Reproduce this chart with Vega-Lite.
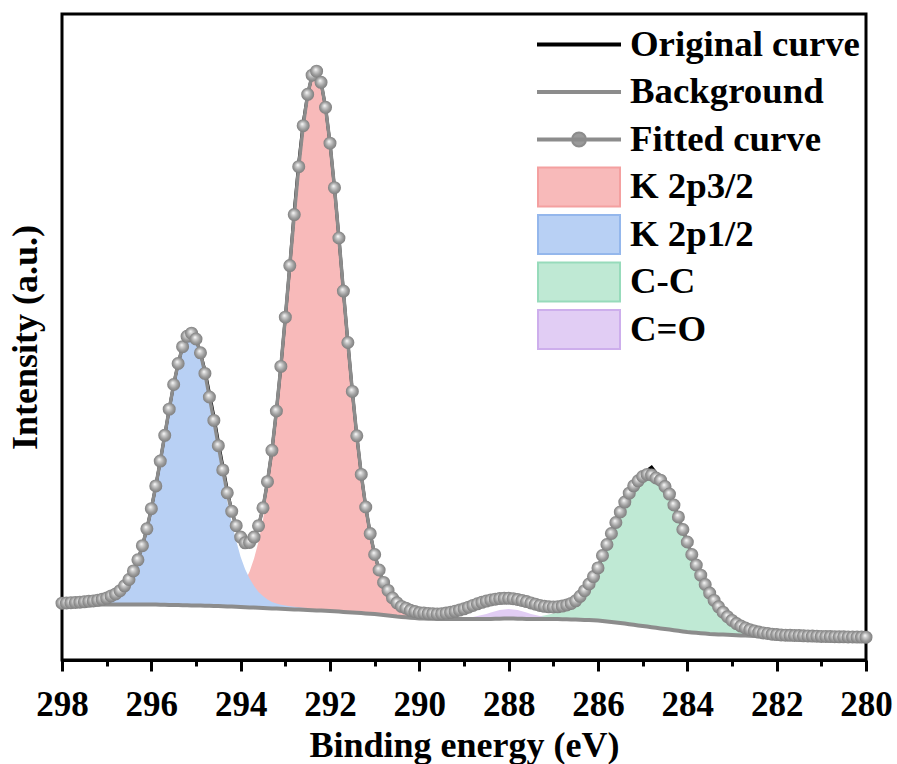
{
"$schema": "https://vega.github.io/schema/vega-lite/v6.json",
"width": 804, "height": 646,
"autosize": {"type": "none"},
"padding": {"left": 62, "top": 14, "right": 31, "bottom": 104},
"background": "white",
"data": {"values": [
{"x":298.0,"bg":54.5,"f":56.8,"o":56.8},
{"x":297.9,"bg":54.6,"f":57.0,"o":57.0},
{"x":297.8,"bg":54.7,"f":57.3,"o":57.3},
{"x":297.7,"bg":54.8,"f":57.5,"o":57.5},
{"x":297.6,"bg":54.9,"f":57.8,"o":57.8},
{"x":297.5,"bg":55.0,"f":58.2,"o":58.2,"b":57.3},
{"x":297.4,"bg":55.1,"f":58.7,"o":58.7,"b":57.8},
{"x":297.3,"bg":55.2,"f":59.1,"o":59.1,"b":58.2},
{"x":297.2,"bg":55.3,"f":59.8,"o":59.8,"b":58.8},
{"x":297.1,"bg":55.4,"f":60.7,"o":60.7,"b":59.7},
{"x":297.0,"bg":55.5,"f":61.9,"o":61.9,"b":60.9},
{"x":296.9,"bg":55.5,"f":64.1,"o":64.1,"b":63.0},
{"x":296.8,"bg":55.5,"f":66.0,"o":66.0,"b":64.9},
{"x":296.7,"bg":55.5,"f":69.3,"o":69.3,"b":68.1},
{"x":296.6,"bg":55.5,"f":74.2,"o":74.2,"b":73.0},
{"x":296.5,"bg":55.5,"f":80.5,"o":80.5,"b":79.2},
{"x":296.4,"bg":55.5,"f":89.1,"o":89.1,"b":87.8},
{"x":296.3,"bg":55.5,"f":100.2,"o":100.2,"b":98.8},
{"x":296.2,"bg":55.5,"f":114.3,"o":114.3,"b":112.8},
{"x":296.1,"bg":55.5,"f":131.2,"o":131.2,"b":129.7},
{"x":296.0,"bg":55.5,"f":151.3,"o":151.3,"b":149.7},
{"x":295.9,"bg":55.4,"f":174.1,"o":174.1,"b":172.4},
{"x":295.8,"bg":55.3,"f":198.9,"o":198.9,"b":197.1},
{"x":295.7,"bg":55.2,"f":224.7,"o":224.7,"b":222.8},
{"x":295.6,"bg":55.1,"f":250.8,"o":250.8,"b":248.8},
{"x":295.5,"bg":55.0,"f":275.5,"o":275.5,"b":273.2},
{"x":295.4,"bg":54.9,"f":296.5,"o":296.5,"b":294.0},
{"x":295.3,"bg":54.8,"f":313.3,"o":313.3,"b":310.6},
{"x":295.2,"bg":54.7,"f":323.7,"o":323.7,"b":320.7},
{"x":295.1,"bg":54.6,"f":326.8,"o":326.8,"b":323.6},
{"x":295.0,"bg":54.5,"f":321.0,"o":321.0,"b":317.5},
{"x":294.9,"bg":54.4,"f":307.2,"o":307.2,"b":303.4},
{"x":294.8,"bg":54.3,"f":286.6,"o":289.6,"b":282.3},
{"x":294.7,"bg":54.2,"f":263.0,"o":267.0,"b":258.2},
{"x":294.6,"bg":54.1,"f":239.6,"o":243.6,"b":234.1},
{"x":294.5,"bg":54.0,"f":214.3,"o":218.3,"b":208.0},
{"x":294.4,"bg":53.8,"f":190.1,"o":194.1,"b":182.8},
{"x":294.3,"bg":53.6,"f":167.2,"o":170.2,"b":158.6},
{"x":294.2,"bg":53.4,"f":148.7,"o":148.7,"b":137.4,"r":64.7},
{"x":294.1,"bg":53.2,"f":134.3,"o":134.3,"b":119.2,"r":68.3},
{"x":294.0,"bg":53.0,"f":122.9,"o":122.9,"b":103.0,"r":72.9},
{"x":293.9,"bg":52.8,"f":117.2,"o":117.2,"b":90.8,"r":79.2},
{"x":293.8,"bg":52.6,"f":117.6,"o":117.6,"b":81.6,"r":88.6},
{"x":293.7,"bg":52.4,"f":122.9,"o":122.9,"b":73.9,"r":101.4},
{"x":293.6,"bg":52.2,"f":134.2,"o":134.2,"b":68.0,"r":118.4},
{"x":293.5,"bg":52.0,"f":152.2,"o":152.2,"b":64.0,"r":140.2},
{"x":293.4,"bg":51.8,"f":178.3,"o":178.3,"b":60.5,"r":169.6},
{"x":293.3,"bg":51.6,"f":209.7,"o":209.7,"b":58.0,"r":203.3},
{"x":293.2,"bg":51.4,"f":249.0,"o":249.0,"b":56.4,"r":244.0},
{"x":293.1,"bg":51.2,"f":293.6,"o":293.6,"b":55.3,"r":289.5},
{"x":293.0,"bg":51.0,"f":342.8,"o":342.8,"b":54.4,"r":339.4},
{"x":292.9,"bg":50.8,"f":394.4,"o":394.4,"b":53.8,"r":391.4},
{"x":292.8,"bg":50.6,"f":445.4,"o":449.4,"b":53.2,"r":442.8},
{"x":292.7,"bg":50.4,"f":493.3,"o":497.3,"b":52.7,"r":491.0},
{"x":292.6,"bg":50.2,"f":534.3,"o":537.3,"b":52.3,"r":532.2},
{"x":292.5,"bg":50.0,"f":565.7,"o":565.7,"b":51.9,"r":563.8},
{"x":292.4,"bg":49.8,"f":584.8,"o":584.8,"r":583.0},
{"x":292.3,"bg":49.6,"f":588.8,"o":588.8,"r":587.1},
{"x":292.2,"bg":49.4,"f":577.7,"o":577.7,"r":576.1},
{"x":292.1,"bg":49.2,"f":552.7,"o":552.7,"r":551.2},
{"x":292.0,"bg":49.0,"f":516.8,"o":516.8,"r":515.4},
{"x":291.9,"bg":48.7,"f":472.3,"o":472.3,"r":471.0},
{"x":291.8,"bg":48.4,"f":422.0,"o":422.0,"r":420.7},
{"x":291.7,"bg":48.1,"f":368.9,"o":368.9,"r":367.7},
{"x":291.6,"bg":47.8,"f":317.5,"o":317.5,"r":316.3},
{"x":291.5,"bg":47.5,"f":268.6,"o":268.6,"r":267.5},
{"x":291.4,"bg":47.2,"f":224.2,"o":224.2,"r":223.1},
{"x":291.3,"bg":46.9,"f":185.6,"o":185.6,"r":184.6},
{"x":291.2,"bg":46.6,"f":153.0,"o":153.0,"r":152.0},
{"x":291.1,"bg":46.3,"f":126.4,"o":126.4,"r":125.4},
{"x":291.0,"bg":46.0,"f":105.5,"o":105.5,"r":104.6},
{"x":290.9,"bg":45.5,"f":90.0,"o":90.0,"r":89.1},
{"x":290.8,"bg":45.0,"f":77.6,"o":77.6,"r":76.7},
{"x":290.7,"bg":44.5,"f":69.6,"o":69.6,"r":68.7},
{"x":290.6,"bg":44.0,"f":62.0,"o":62.0,"r":61.2},
{"x":290.5,"bg":43.5,"f":57.2,"o":57.2,"r":56.4},
{"x":290.4,"bg":43.1,"f":53.6,"o":53.6,"r":52.8},
{"x":290.3,"bg":42.7,"f":51.8,"o":51.8,"r":51.0},
{"x":290.2,"bg":42.3,"f":49.7,"o":49.7,"r":49.0},
{"x":290.1,"bg":41.9,"f":48.5,"o":48.5,"r":47.8},
{"x":290.0,"bg":41.5,"f":47.3,"o":47.3,"r":46.6},
{"x":289.9,"bg":41.4,"f":47.0,"o":47.0},
{"x":289.8,"bg":41.3,"f":46.6,"o":46.6},
{"x":289.7,"bg":41.2,"f":46.3,"o":46.3},
{"x":289.6,"bg":41.1,"f":46.1,"o":46.1},
{"x":289.5,"bg":41.0,"f":46.3,"o":46.3},
{"x":289.4,"bg":41.0,"f":46.9,"o":46.9},
{"x":289.3,"bg":41.0,"f":47.7,"o":47.7},
{"x":289.2,"bg":41.0,"f":48.7,"o":48.7},
{"x":289.1,"bg":41.0,"f":49.9,"o":49.9},
{"x":289.0,"bg":41.0,"f":51.2,"o":51.2,"p":41.9},
{"x":288.9,"bg":41.0,"f":52.8,"o":52.8,"p":42.4},
{"x":288.8,"bg":41.0,"f":54.6,"o":54.6,"p":43.1},
{"x":288.7,"bg":41.0,"f":56.2,"o":56.2,"p":43.9},
{"x":288.6,"bg":41.0,"f":57.7,"o":57.7,"p":45.0},
{"x":288.5,"bg":41.0,"f":58.9,"o":58.9,"p":46.1},
{"x":288.4,"bg":41.1,"f":60.0,"o":60.0,"p":47.5},
{"x":288.3,"bg":41.2,"f":60.8,"o":60.8,"p":48.8},
{"x":288.2,"bg":41.3,"f":61.4,"o":61.4,"p":49.9},
{"x":288.1,"bg":41.4,"f":61.7,"o":61.7,"p":50.6},
{"x":288.0,"bg":41.5,"f":61.7,"o":61.7,"p":51.0},
{"x":287.9,"bg":41.4,"f":61.3,"o":61.3,"p":50.6},
{"x":287.8,"bg":41.3,"f":60.6,"o":60.6,"p":49.9},
{"x":287.7,"bg":41.2,"f":59.6,"o":59.6,"p":48.8},
{"x":287.6,"bg":41.1,"f":58.4,"o":58.4,"p":47.5},
{"x":287.5,"bg":41.0,"f":57.1,"o":57.1,"p":46.1},
{"x":287.4,"bg":41.0,"f":55.8,"o":55.8,"p":45.0},
{"x":287.3,"bg":41.0,"f":54.6,"o":54.6,"p":43.9,"g":43.7},
{"x":287.2,"bg":41.0,"f":53.7,"o":53.7,"p":43.1,"g":44.5},
{"x":287.1,"bg":41.0,"f":53.2,"o":53.2,"p":42.4,"g":45.4},
{"x":287.0,"bg":41.0,"f":53.0,"o":53.0,"p":41.9,"g":46.6},
{"x":286.9,"bg":40.9,"f":53.2,"o":53.2,"g":48.0},
{"x":286.8,"bg":40.8,"f":53.9,"o":53.9,"g":49.6},
{"x":286.7,"bg":40.7,"f":55.0,"o":55.0,"g":51.9},
{"x":286.6,"bg":40.6,"f":56.6,"o":59.6,"g":55.0},
{"x":286.5,"bg":40.5,"f":59.2,"o":64.2,"g":58.7},
{"x":286.4,"bg":40.3,"f":63.7,"o":69.7,"g":63.2},
{"x":286.3,"bg":40.1,"f":69.3,"o":73.3,"g":68.8},
{"x":286.2,"bg":39.9,"f":76.0,"o":78.0,"g":75.5},
{"x":286.1,"bg":39.7,"f":83.4,"o":83.4,"g":82.9},
{"x":286.0,"bg":39.5,"f":92.1,"o":92.1,"g":91.6},
{"x":285.9,"bg":39.0,"f":104.5,"o":104.5,"g":104.0},
{"x":285.8,"bg":38.5,"f":115.5,"o":115.5,"g":115.0},
{"x":285.7,"bg":38.0,"f":126.5,"o":126.5,"g":126.0},
{"x":285.6,"bg":37.5,"f":137.5,"o":137.5,"g":137.0},
{"x":285.5,"bg":37.0,"f":148.0,"o":148.0,"g":147.5},
{"x":285.4,"bg":36.4,"f":157.9,"o":157.9,"g":157.4},
{"x":285.3,"bg":35.8,"f":166.8,"o":166.8,"g":166.3},
{"x":285.2,"bg":35.2,"f":174.2,"o":174.2,"g":173.7},
{"x":285.1,"bg":34.6,"f":179.2,"o":179.2,"g":178.7},
{"x":285.0,"bg":34.0,"f":183.5,"o":183.5,"g":183.0},
{"x":284.9,"bg":33.4,"f":185.6,"o":189.6,"g":185.1},
{"x":284.8,"bg":32.8,"f":185.0,"o":193.0,"g":184.5},
{"x":284.7,"bg":32.2,"f":182.0,"o":187.0,"g":181.5},
{"x":284.6,"bg":31.6,"f":179.8,"o":181.8,"g":179.3},
{"x":284.5,"bg":31.0,"f":173.5,"o":173.5,"g":173.0},
{"x":284.4,"bg":30.4,"f":165.9,"o":165.9,"g":165.4},
{"x":284.3,"bg":29.8,"f":155.0,"o":155.0,"g":154.5},
{"x":284.2,"bg":29.2,"f":143.1,"o":143.1,"g":142.6},
{"x":284.1,"bg":28.6,"f":130.5,"o":130.5,"g":130.0},
{"x":284.0,"bg":28.0,"f":118.0,"o":118.0,"g":117.5},
{"x":283.9,"bg":27.6,"f":105.5,"o":105.5,"g":105.0},
{"x":283.8,"bg":27.2,"f":95.0,"o":95.0,"g":94.5},
{"x":283.7,"bg":26.8,"f":84.8,"o":84.8,"g":84.3},
{"x":283.6,"bg":26.4,"f":75.5,"o":75.5,"g":75.0},
{"x":283.5,"bg":26.0,"f":66.9,"o":66.9,"g":66.4},
{"x":283.4,"bg":25.8,"f":59.6,"o":59.6,"g":59.1},
{"x":283.3,"bg":25.6,"f":53.2,"o":53.2,"g":52.7},
{"x":283.2,"bg":25.4,"f":47.8,"o":47.8,"g":47.3},
{"x":283.1,"bg":25.2,"f":43.3,"o":43.3,"g":42.8},
{"x":283.0,"bg":25.0,"f":39.6,"o":41.6,"g":39.1},
{"x":282.9,"bg":24.8,"f":36.4,"o":39.4,"g":35.9},
{"x":282.8,"bg":24.6,"f":33.9,"o":36.9,"g":33.4},
{"x":282.7,"bg":24.4,"f":32.0,"o":34.0,"g":31.5},
{"x":282.6,"bg":24.2,"f":30.3,"o":30.3,"g":29.8},
{"x":282.5,"bg":24.0,"f":29.1,"o":29.1,"g":28.6},
{"x":282.4,"bg":23.8,"f":27.9,"o":27.9,"g":27.4},
{"x":282.3,"bg":23.6,"f":27.1,"o":27.1,"g":26.6},
{"x":282.2,"bg":23.4,"f":26.5,"o":26.5,"g":26.0},
{"x":282.1,"bg":23.2,"f":25.8,"o":25.8,"g":25.3},
{"x":282.0,"bg":23.0,"f":25.4,"o":25.4,"g":24.9},
{"x":281.9,"bg":23.0,"f":25.0,"o":25.0},
{"x":281.8,"bg":22.9,"f":24.8,"o":24.8},
{"x":281.7,"bg":22.9,"f":24.7,"o":24.7},
{"x":281.6,"bg":22.8,"f":24.5,"o":24.5},
{"x":281.5,"bg":22.8,"f":24.4,"o":24.4},
{"x":281.4,"bg":22.7,"f":24.2,"o":24.2},
{"x":281.3,"bg":22.7,"f":24.1,"o":24.1},
{"x":281.2,"bg":22.6,"f":23.9,"o":23.9},
{"x":281.1,"bg":22.6,"f":23.8,"o":23.8},
{"x":281.0,"bg":22.5,"f":23.6,"o":23.6},
{"x":280.9,"bg":22.5,"f":23.5,"o":23.5},
{"x":280.8,"bg":22.4,"f":23.4,"o":23.4},
{"x":280.7,"bg":22.4,"f":23.3,"o":23.3},
{"x":280.6,"bg":22.3,"f":23.2,"o":23.2},
{"x":280.5,"bg":22.3,"f":23.2,"o":23.2},
{"x":280.4,"bg":22.2,"f":23.1,"o":23.1},
{"x":280.3,"bg":22.2,"f":23.0,"o":23.0},
{"x":280.2,"bg":22.1,"f":22.9,"o":22.9},
{"x":280.1,"bg":22.1,"f":22.9,"o":22.9},
{"x":280.0,"bg":22.0,"f":22.8,"o":22.8}
]},
"encoding": {
  "x": {"field": "x", "type": "quantitative", "scale": {"domain": [298, 280], "nice": false, "zero": false}, "axis": null}
},
"resolve": {"axis": {"x": "independent"}},
"layer": [
  {"mark": {"type": "area", "opacity": 1, "color": "#f8baba"},
   "encoding": {
     "y": {"field": "r", "type": "quantitative", "title": "Intensity (a.u.)", "scale": {"domain": [0, 646], "nice": false, "zero": false}},
     "y2": {"field": "bg"}}},
  {"mark": {"type": "area", "opacity": 1, "color": "#b8d0f4"},
   "encoding": {
     "y": {"field": "b", "type": "quantitative", "title": "Intensity (a.u.)", "scale": {"domain": [0, 646], "nice": false, "zero": false}},
     "y2": {"field": "bg"}}},
  {"mark": {"type": "area", "opacity": 1, "color": "#bfe9d4"},
   "encoding": {
     "y": {"field": "g", "type": "quantitative", "title": "Intensity (a.u.)", "scale": {"domain": [0, 646], "nice": false, "zero": false}},
     "y2": {"field": "bg"}}},
  {"mark": {"type": "area", "opacity": 1, "color": "#e1cdf4"},
   "encoding": {
     "y": {"field": "p", "type": "quantitative", "title": "Intensity (a.u.)", "scale": {"domain": [0, 646], "nice": false, "zero": false}},
     "y2": {"field": "bg"}}},
  {"mark": {"type": "line", "color": "#8c8c8c", "strokeWidth": 4},
   "encoding": {
     "x": {"field": "x", "type": "quantitative", "title": "Binding energy (eV)",
       "scale": {"domain": [298, 280], "nice": false, "zero": false},
       "axis": {"orient": "bottom", "values": [298,296,294,292,290,288,286,284,282,280],
         "tickSize": 11, "tickWidth": 3, "tickColor": "black", "domainColor": "black", "domainWidth": 3,
         "labelFont": "Liberation Serif", "labelFontSize": 35, "labelFontWeight": "bold", "labelColor": "black",
         "labelPadding": 16, "labelFlush": false, "labelOverlap": false,
         "titleFont": "Liberation Serif", "titleFontSize": 36, "titleFontWeight": "bold", "titleColor": "black",
         "titlePadding": 6, "grid": false}},
     "y": {"field": "bg", "type": "quantitative", "title": "Intensity (a.u.)", "scale": {"domain": [0, 646], "nice": false, "zero": false}}}},
  {"mark": {"type": "line", "color": "#000000", "strokeWidth": 3},
   "encoding": {"y": {"field": "o", "type": "quantitative", "title": "Intensity (a.u.)", "scale": {"domain": [0, 646], "nice": false, "zero": false}}}},
  {"mark": {"type": "line", "color": "#8c8c8c", "strokeWidth": 3.5},
   "encoding": {
     "x": {"field": "x", "type": "quantitative", "title": null,
       "scale": {"domain": [298, 280], "nice": false, "zero": false},
       "axis": {"orient": "bottom", "values": [297,295,293,291,289,287,285,283,281],
         "tickSize": 6, "tickWidth": 3, "tickColor": "black", "domain": false, "labels": false, "grid": false, "title": null}},
     "y": {"field": "f", "type": "quantitative", "title": "Intensity (a.u.)", "scale": {"domain": [0, 646], "nice": false, "zero": false}}}},
  {"mark": {"type": "point", "shape": "circle", "filled": true, "size": 170, "opacity": 1, "strokeWidth": 0,
     "fill": {"gradient": "radial", "x1": 0.42, "y1": 0.36, "r1": 0, "x2": 0.5, "y2": 0.5, "r2": 0.52,
       "stops": [{"offset": 0, "color": "#ffffff"}, {"offset": 0.25, "color": "#d2d2d2"}, {"offset": 0.65, "color": "#9c9c9c"}, {"offset": 1, "color": "#7c7c7c"}]}},
   "encoding": {"y": {"field": "f", "type": "quantitative", "title": "Intensity (a.u.)", "scale": {"domain": [0, 646], "nice": false, "zero": false}}}},
  {"data": {"values": [{"s": "Original curve"}, {"s": "Background"}, {"s": "Fitted curve"}, {"s": "K 2p3/2"}, {"s": "K 2p1/2"}, {"s": "C-C"}, {"s": "C=O"}]},
   "mark": {"type": "point", "filled": true, "opacity": 0},
   "encoding": {
     "fill": {"field": "s", "type": "nominal",
       "scale": {"domain": ["Original curve","Background","Fitted curve","K 2p3/2","K 2p1/2","C-C","C=O"],
                 "range": ["#000000","#8c8c8c","#9a9a9a","#f8baba","#b8d0f4","#bfe9d4","#e1cdf4"]},
       "legend": {"title": " ", "titleFontSize": 1, "titlePadding": 2, "orient": "top-right", "offset": 6, "padding": 0, "rowPadding": -3.5,
         "symbolSize": 1681, "symbolOpacity": 1, "symbolStrokeWidth": 2, "labelOffset": 50,
         "labelFont": "Liberation Serif", "labelFontSize": 36.8, "labelFontWeight": "bold", "labelColor": "black", "labelLimit": 400}},
     "stroke": {"field": "s", "type": "nominal",
       "scale": {"domain": ["Original curve","Background","Fitted curve","K 2p3/2","K 2p1/2","C-C","C=O"],
                 "range": ["#000000","#8c8c8c","#8c8c8c","#f4a0a0","#94b7ec","#97dbbb","#cdaeec"]},
       "legend": {"title": " ", "titleFontSize": 1, "titlePadding": 2, "orient": "top-right", "offset": 6, "padding": 0, "rowPadding": -3.5,
         "symbolSize": 1681, "symbolOpacity": 1, "symbolStrokeWidth": 2, "labelOffset": 50,
         "labelFont": "Liberation Serif", "labelFontSize": 36.8, "labelFontWeight": "bold", "labelColor": "black", "labelLimit": 400}},
     "shape": {"field": "s", "type": "nominal",
       "scale": {"domain": ["Original curve","Background","Fitted curve","K 2p3/2","K 2p1/2","C-C","C=O"],
                 "range": ["M1,-1.1M1,0.95M-1,-0.05L3,-0.05L3,0.05L-1,0.05Z","M1,-1.1M1,0.95M-1,-0.05L3,-0.05L3,0.05L-1,0.05Z","M1,-1.1M1,0.95M-1,-0.05L3,-0.05L3,0.05L-1,0.05ZM1.34,0A0.34,0.34 0 1 1 0.66,0A0.34,0.34 0 1 1 1.34,0Z","M1,-1.1M-1,-0.95L3,-0.95L3,0.95L-1,0.95Z","M1,-1.1M-1,-0.95L3,-0.95L3,0.95L-1,0.95Z","M1,-1.1M-1,-0.95L3,-0.95L3,0.95L-1,0.95Z","M1,-1.1M-1,-0.95L3,-0.95L3,0.95L-1,0.95Z"]},
       "legend": {"title": " ", "titleFontSize": 1, "titlePadding": 2, "orient": "top-right", "offset": 6, "padding": 0, "rowPadding": -3.5,
         "symbolSize": 1681, "symbolOpacity": 1, "symbolStrokeWidth": 2, "labelOffset": 50,
         "labelFont": "Liberation Serif", "labelFontSize": 36.8, "labelFontWeight": "bold", "labelColor": "black", "labelLimit": 400}}
   }}
],
"config": {
  "font": "Liberation Serif",
  "view": {"stroke": "black", "strokeWidth": 3},
  "axisY": {"ticks": false, "labels": false, "domain": false, "grid": false,
    "titleFont": "Liberation Serif", "titleFontSize": 36, "titleFontWeight": "bold", "titleColor": "black", "titlePadding": 18}
}
}
